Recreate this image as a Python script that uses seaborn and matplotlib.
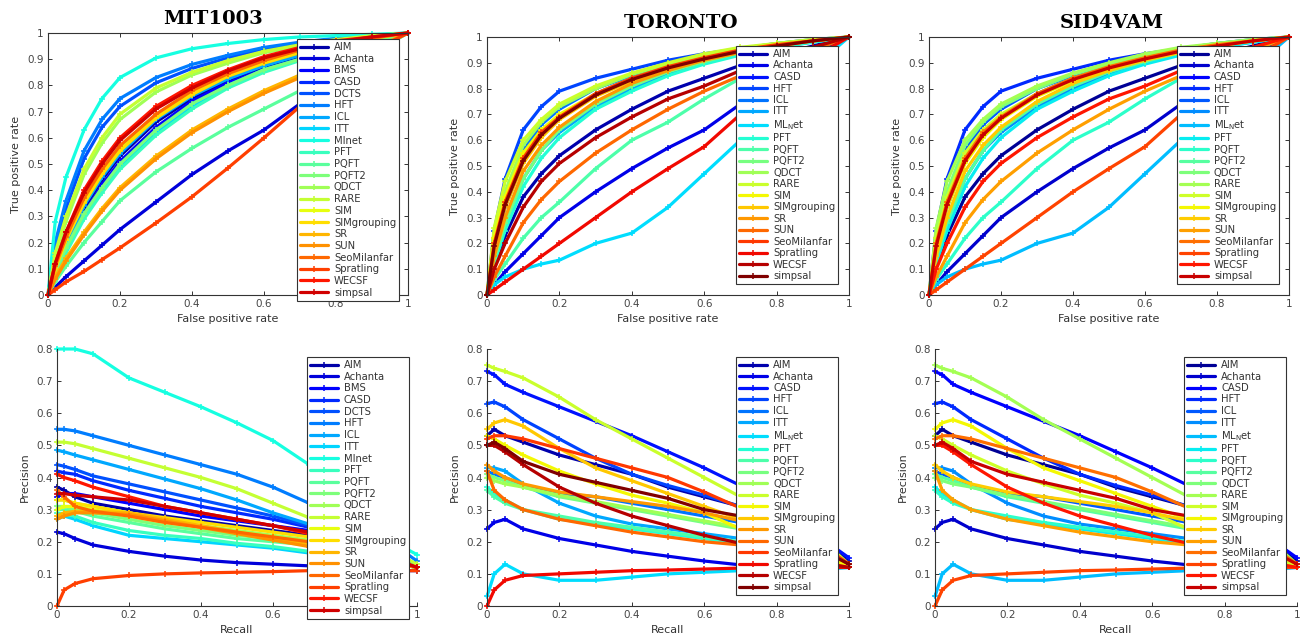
import numpy as np
import pandas as pd
import matplotlib
matplotlib.use("Agg")
import matplotlib.pyplot as plt
import seaborn as sns
from matplotlib.lines import Line2D

sns.set_theme(style="ticks")
plt.rcParams["font.family"] = ["DejaVu Sans"]

# ---------------- data ----------------
fpr_grid = [0, .02, .05, .1, .15, .2, .3, .4, .5, .6, .7, .8, .9, 1.0]
recall_grid = [0, .02, .05, .1, .2, .3, .4, .5, .6, .7, .8, .9, .95, 1.0]

mit_models = ["AIM", "Achanta", "BMS", "CASD", "DCTS", "HFT", "ICL", "ITT", "Mlnet",
              "PFT", "PQFT", "PQFT2", "QDCT", "RARE", "SIM", "SIMgrouping", "SR", "SUN",
              "SeoMilanfar", "Spratling", "WECSF", "simpsal"]
tor_models = ["AIM", "Achanta", "CASD", "HFT", "ICL", "ITT", r"ML$_\mathrm{N}$et",
              "PFT", "PQFT", "PQFT2", "QDCT", "RARE", "SIM", "SIMgrouping", "SR", "SUN",
              "SeoMilanfar", "Spratling", "WECSF", "simpsal"]
sid_models = tor_models

mit_roc_tpr = {
    "AIM":         [0, .09, .19, .33, .44, .53, .66, .75, .82, .87, .91, .945, .97, 1],
    "Achanta":     [0, .03, .07, .13, .19, .25, .355, .46, .55, .63, .73, .84, .93, 1],
    "BMS":         [0, .09, .18, .31, .42, .51, .64, .74, .81, .86, .90, .94, .97, 1],
    "CASD":        [0, .10, .20, .35, .46, .55, .67, .76, .83, .88, .92, .95, .975, 1],
    "DCTS":        [0, .18, .33, .52, .64, .72, .81, .865, .905, .94, .96, .975, .99, 1],
    "HFT":         [0, .20, .36, .55, .67, .75, .83, .88, .915, .945, .965, .98, .99, 1],
    "ICL":         [0, .09, .19, .34, .45, .54, .67, .76, .825, .875, .915, .95, .975, 1],
    "ITT":         [0, .08, .17, .30, .40, .49, .62, .72, .80, .86, .90, .94, .97, 1],
    "Mlnet":       [0, .28, .45, .63, .75, .83, .905, .94, .96, .975, .985, .99, .995, 1],
    "PFT":         [0, .08, .16, .29, .39, .48, .61, .71, .79, .85, .895, .935, .965, 1],
    "PQFT":        [0, .05, .11, .20, .28, .36, .47, .56, .64, .71, .78, .85, .92, 1],
    "PQFT2":       [0, .09, .18, .31, .41, .50, .63, .73, .80, .86, .90, .94, .97, 1],
    "QDCT":        [0, .15, .28, .46, .58, .67, .775, .84, .885, .925, .95, .97, .985, 1],
    "RARE":        [0, .16, .30, .48, .60, .69, .79, .85, .895, .93, .955, .975, .99, 1],
    "SIM":         [0, .10, .21, .36, .47, .56, .68, .77, .84, .89, .93, .96, .98, 1],
    "SIMgrouping": [0, .10, .21, .35, .46, .55, .675, .765, .835, .885, .925, .955, .98, 1],
    "SR":          [0, .07, .14, .24, .33, .41, .53, .63, .71, .78, .84, .89, .94, 1],
    "SUN":         [0, .06, .13, .23, .32, .40, .52, .62, .70, .77, .83, .885, .935, 1],
    "SeoMilanfar": [0, .11, .22, .37, .48, .57, .69, .78, .845, .895, .935, .96, .98, 1],
    "Spratling":   [0, .02, .05, .09, .135, .18, .275, .375, .485, .60, .72, .84, .93, 1],
    "WECSF":       [0, .12, .24, .40, .51, .60, .72, .80, .86, .91, .945, .97, .985, 1],
    "simpsal":     [0, .12, .24, .39, .50, .59, .71, .79, .855, .905, .94, .965, .985, 1],
}

tor_roc_tpr = {
    "AIM":         [0, .12, .23, .38, .47, .54, .64, .72, .79, .84, .89, .93, .965, 1],
    "Achanta":     [0, .04, .09, .16, .23, .30, .40, .49, .57, .64, .74, .84, .93, 1],
    "CASD":        [0, .18, .34, .52, .62, .69, .78, .84, .885, .92, .95, .97, .985, 1],
    "HFT":         [0, .25, .45, .64, .73, .79, .84, .875, .91, .935, .955, .975, .99, 1],
    "ICL":         [0, .20, .38, .56, .66, .72, .80, .85, .89, .925, .95, .97, .985, 1],
    "ITT":         [0, .14, .28, .45, .56, .63, .73, .80, .855, .90, .935, .96, .98, 1],
    r"ML$_\mathrm{N}$et": [0, .04, .07, .10, .12, .135, .20, .24, .34, .47, .60, .74, .88, 1],
    "PFT":         [0, .12, .25, .42, .53, .61, .72, .79, .85, .895, .93, .96, .98, 1],
    "PQFT":        [0, .06, .12, .22, .30, .36, .49, .60, .67, .76, .84, .90, .95, 1],
    "PQFT2":       [0, .14, .28, .45, .56, .64, .74, .81, .865, .905, .94, .965, .985, 1],
    "QDCT":        [0, .22, .40, .58, .67, .73, .80, .855, .895, .93, .955, .975, .99, 1],
    "RARE":        [0, .26, .44, .60, .68, .74, .81, .86, .90, .935, .96, .975, .99, 1],
    "SIM":         [0, .22, .38, .55, .64, .70, .78, .84, .885, .92, .95, .97, .985, 1],
    "SIMgrouping": [0, .18, .34, .51, .61, .68, .77, .83, .88, .915, .945, .965, .985, 1],
    "SR":          [0, .15, .30, .48, .58, .65, .75, .82, .87, .91, .94, .965, .985, 1],
    "SUN":         [0, .07, .15, .28, .37, .44, .55, .64, .72, .79, .85, .90, .95, 1],
    "SeoMilanfar": [0, .20, .36, .53, .63, .69, .78, .84, .885, .92, .95, .97, .985, 1],
    "Spratling":   [0, .02, .05, .10, .15, .20, .30, .40, .49, .575, .70, .82, .92, 1],
    "WECSF":       [0, .10, .20, .34, .44, .51, .61, .69, .76, .81, .87, .92, .96, 1],
    "simpsal":     [0, .19, .35, .52, .62, .685, .775, .835, .88, .915, .945, .965, .985, 1],
}
sid_roc_tpr = tor_roc_tpr

mit_pr_prec = {
    "AIM":         [.37, .36, .34, .32, .30, .28, .265, .25, .235, .22, .20, .17, .14, .12],
    "Achanta":     [.23, .225, .21, .19, .17, .155, .143, .135, .13, .125, .12, .115, .11, .11],
    "BMS":         [.34, .35, .35, .34, .32, .30, .28, .265, .25, .235, .21, .18, .15, .12],
    "CASD":        [.42, .415, .41, .39, .36, .335, .31, .29, .27, .245, .22, .19, .15, .12],
    "DCTS":        [.44, .435, .425, .405, .38, .355, .33, .305, .28, .25, .22, .19, .15, .12],
    "HFT":         [.55, .55, .545, .53, .50, .47, .44, .41, .37, .32, .28, .22, .18, .14],
    "ICL":         [.485, .48, .47, .455, .425, .395, .365, .33, .29, .255, .22, .18, .15, .12],
    "ITT":         [.27, .28, .27, .25, .22, .21, .20, .19, .18, .165, .15, .14, .13, .12],
    "Mlnet":       [.80, .80, .80, .785, .71, .665, .62, .57, .515, .44, .35, .25, .19, .16],
    "PFT":         [.29, .285, .28, .26, .235, .22, .21, .195, .185, .17, .155, .14, .13, .12],
    "PQFT":        [.30, .30, .295, .28, .26, .24, .225, .21, .20, .19, .17, .15, .13, .12],
    "PQFT2":       [.31, .31, .30, .29, .27, .25, .235, .22, .21, .195, .175, .155, .13, .12],
    "QDCT":        [.33, .33, .32, .31, .29, .27, .25, .235, .22, .205, .18, .16, .14, .12],
    "RARE":        [.51, .51, .505, .49, .46, .43, .40, .365, .32, .275, .24, .19, .16, .13],
    "SIM":         [.30, .31, .31, .30, .28, .26, .245, .23, .215, .20, .18, .16, .14, .12],
    "SIMgrouping": [.33, .33, .32, .31, .29, .275, .26, .245, .23, .215, .19, .165, .14, .12],
    "SR":          [.28, .29, .295, .295, .29, .27, .25, .23, .21, .19, .17, .15, .13, .12],
    "SUN":         [.27, .28, .29, .29, .285, .265, .245, .225, .205, .185, .165, .15, .13, .12],
    "SeoMilanfar": [.36, .34, .31, .295, .28, .26, .245, .23, .215, .20, .18, .16, .14, .12],
    "Spratling":   [0, .05, .07, .085, .095, .10, .103, .105, .107, .11, .11, .11, .11, .11],
    "WECSF":       [.41, .40, .39, .37, .34, .31, .29, .27, .25, .225, .20, .17, .14, .12],
    "simpsal":     [.35, .35, .345, .34, .33, .31, .29, .27, .25, .23, .20, .17, .14, .12],
}

tor_pr_prec = {
    "AIM":         [.53, .55, .53, .51, .47, .44, .41, .37, .34, .31, .27, .22, .18, .14],
    "Achanta":     [.24, .26, .27, .24, .21, .19, .17, .155, .14, .128, .125, .12, .12, .12],
    "CASD":        [.73, .72, .69, .665, .62, .575, .53, .48, .43, .375, .32, .25, .19, .15],
    "HFT":         [.63, .635, .62, .58, .52, .46, .41, .375, .345, .31, .27, .22, .17, .13],
    "ICL":         [.42, .41, .40, .375, .35, .34, .32, .30, .28, .26, .23, .19, .16, .13],
    "ITT":         [.43, .43, .42, .38, .32, .28, .255, .24, .225, .21, .19, .16, .14, .12],
    r"ML$_\mathrm{N}$et": [.03, .10, .13, .10, .08, .08, .09, .10, .105, .11, .11, .115, .115, .12],
    "PFT":         [.37, .35, .33, .30, .27, .255, .24, .225, .21, .195, .18, .16, .14, .12],
    "PQFT":        [.36, .34, .32, .30, .28, .26, .245, .23, .215, .20, .18, .16, .14, .12],
    "PQFT2":       [.41, .40, .39, .37, .34, .32, .30, .28, .26, .24, .21, .18, .15, .12],
    "QDCT":        [.40, .39, .38, .37, .345, .325, .305, .285, .265, .245, .22, .18, .15, .12],
    "RARE":        [.75, .74, .73, .71, .65, .58, .52, .46, .40, .34, .28, .22, .18, .13],
    "SIM":         [.53, .52, .50, .47, .42, .38, .345, .32, .29, .24, .22, .18, .15, .12],
    "SIMgrouping": [.55, .57, .58, .56, .49, .43, .39, .35, .31, .27, .23, .19, .16, .13],
    "SR":          [.44, .42, .40, .38, .355, .34, .325, .31, .29, .265, .23, .19, .16, .13],
    "SUN":         [.42, .36, .33, .30, .27, .25, .23, .215, .20, .19, .17, .15, .13, .12],
    "SeoMilanfar": [.52, .53, .53, .52, .49, .46, .43, .40, .355, .305, .26, .21, .17, .13],
    "Spratling":   [0, .05, .08, .095, .10, .105, .11, .112, .115, .118, .12, .12, .12, .12],
    "WECSF":       [.50, .50, .48, .44, .37, .32, .28, .25, .22, .195, .17, .15, .13, .12],
    "simpsal":     [.50, .51, .49, .45, .41, .385, .36, .335, .30, .28, .24, .20, .16, .13],
}
sid_pr_prec = tor_pr_prec

titles = ["MIT1003", "TORONTO", "SID4VAM"]
x_ticks = [0, 0.2, 0.4, 0.6, 0.8, 1.0]
roc_y_ticks = [0, .1, .2, .3, .4, .5, .6, .7, .8, .9, 1.0]
pr_y_ticks = [0, .1, .2, .3, .4, .5, .6, .7, .8]

# ---------------- style helpers ----------------
def jet_colors(lo, hi, n):
    cmap = matplotlib.colormaps["jet"]
    return [cmap(v) for v in np.linspace(lo, hi, n)]

mit_colors = jet_colors(0.037, 0.927, len(mit_models))
tor_colors = jet_colors(0.04, 1.0, len(tor_models))
sid_colors = jet_colors(0.022, 0.934, len(sid_models))

W, H = 1303, 640
fig = plt.figure(figsize=(W / 100, H / 100), dpi=100)

def px_axes(l, t, r, b):
    return fig.add_axes([l / W, 1 - b / H, (r - l) / W, (b - t) / H])

def fmt(v):
    return "%g" % v

LW, MS, MEW = 2.3, 5, 1.1

def panel(ax, xgrid, curves, models, colors, xlabel, ylabel, ylim, yticks, box, leg_xy, lspace):
    rows = []
    for m in models:
        for x, y in zip(xgrid, curves[m]):
            rows.append((m, x, y))
    df = pd.DataFrame(rows, columns=["model", "x", "y"])
    sns.lineplot(data=df, x="x", y="y", hue="model", hue_order=models, palette=colors,
                 marker="+", markersize=MS, markeredgewidth=MEW, linewidth=LW,
                 errorbar=None, estimator=None, legend=False, ax=ax)
    for ln in ax.get_lines():
        ln.set_markeredgecolor(ln.get_color())
        ln.set_clip_on(False)
    ax.set_xlim(0, 1)
    ax.set_ylim(*ylim)
    ax.set_xticks(x_ticks)
    ax.set_xticklabels([fmt(v) for v in x_ticks])
    ax.set_yticks(yticks)
    ax.set_yticklabels([fmt(v) for v in yticks])
    ax.tick_params(direction="in", length=3, width=0.7, labelsize=7.5,
                   labelcolor="#454545", color="#333333", pad=3,
                   top=box, right=box, bottom=True, left=True)
    for side, sp in ax.spines.items():
        sp.set_linewidth(0.8)
        sp.set_color("#333333")
    if not box:
        ax.spines["top"].set_visible(False)
        ax.spines["right"].set_visible(False)
    ax.set_xlabel(xlabel, fontsize=8, color="#333333")
    ax.set_ylabel(ylabel, fontsize=8, color="#333333")
    ax.xaxis.set_label_coords(0.5, -19 / (ax.get_position().height * H))
    ax.yaxis.set_label_coords(-27 / (ax.get_position().width * W), 0.5)
    handles = [Line2D([], [], color=c, lw=LW, marker="+", ms=MS, mew=MEW) for c in colors]
    leg = ax.legend(handles, models, loc="upper left",
                    bbox_to_anchor=(leg_xy[0] / W, 1 - leg_xy[1] / H),
                    bbox_transform=fig.transFigure, borderaxespad=0,
                    fontsize=7.2, handlelength=2.8, handletextpad=0.6,
                    labelspacing=lspace, borderpad=0.3, fancybox=False,
                    framealpha=1, edgecolor="#333333")
    leg.get_frame().set_linewidth(0.8)
    for t in leg.get_texts():
        t.set_color("#333333")
    return ax

roc_boxes = [(48, 33, 408, 295), (487, 37, 849, 295), (929, 37, 1289, 295)]
pr_boxes = [(57, 349, 417, 606), (487, 349, 849, 606), (935, 349, 1297, 606)]
roc_legs = [(297, 39), (736, 46), (1177, 46)]
pr_legs = [(307, 357), (736, 357), (1184, 357)]
leg_spacing = [0.17, 0.15, 0.15]

datasets = [
    (mit_models, mit_colors, mit_roc_tpr, mit_pr_prec),
    (tor_models, tor_colors, tor_roc_tpr, tor_pr_prec),
    (sid_models, sid_colors, sid_roc_tpr, sid_pr_prec),
]

for i, (models, colors, roc, pr) in enumerate(datasets):
    ax1 = px_axes(*roc_boxes[i])
    panel(ax1, fpr_grid, roc, models, colors, "False positive rate", "True positive rate",
          (0, 1), roc_y_ticks, True, roc_legs[i], leg_spacing[i])
    ax2 = px_axes(*pr_boxes[i])
    panel(ax2, recall_grid, pr, models, colors, "Recall", "Precision",
          (0, 0.8), pr_y_ticks, False, pr_legs[i], leg_spacing[i])

title_pos = [(213, 19), (681, 23), (1112, 23)]
for (tx, ty), t in zip(title_pos, titles):
    fig.text(tx / W, 1 - ty / H, t, ha="center", va="center",
             fontfamily="DejaVu Serif", fontweight="bold", fontsize=14, color="black")

fig.savefig("out.png", dpi=100)
